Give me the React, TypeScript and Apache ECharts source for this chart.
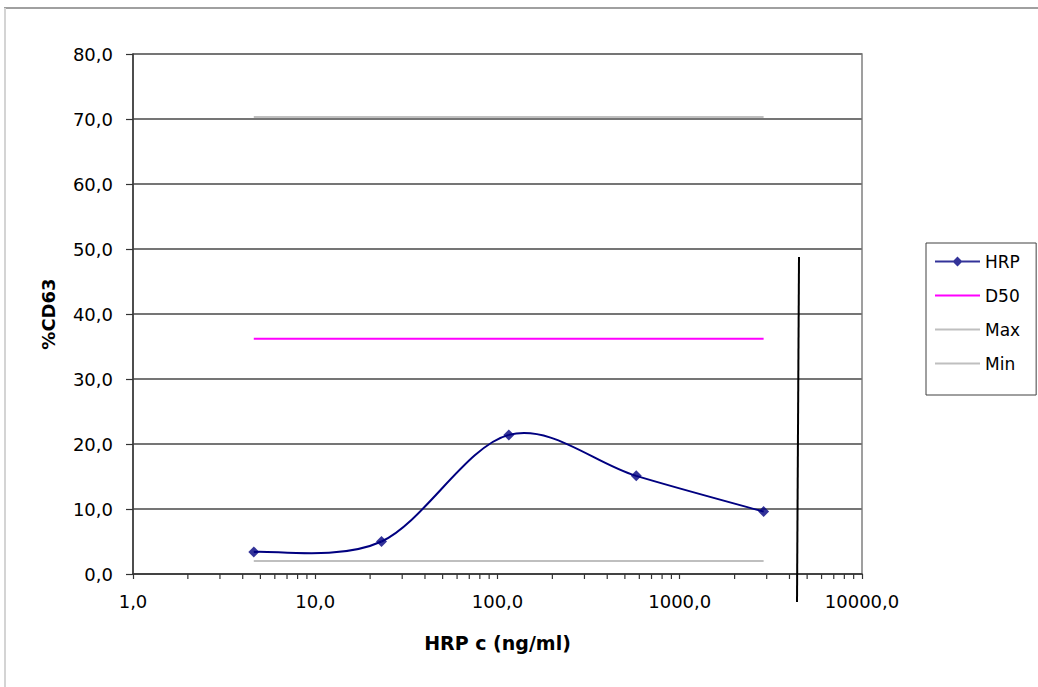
import React, { useEffect, useRef } from "react";
import * as echarts from "echarts";

const concentrations = [4.6, 23.1, 115.4, 577, 2885];
const hrpValues = [3.4, 5.0, 21.4, 15.1, 9.6];
const d50Value = 36.2;
const maxValue = 70.3;
const minValue = 2.0;
const minorTickValues = [
  2, 3, 4, 5, 6, 7, 8, 9,
  20, 30, 40, 50, 60, 70, 80, 90,
  200, 300, 400, 500, 600, 700, 800, 900,
  2000, 3000, 4000, 5000, 6000, 7000, 8000, 9000,
];
const seriesNames = ["HRP", "D50", "Max", "Min"];

const FONT = "DejaVu Sans";
const fmt = (v: number) => v.toFixed(1).replace(".", ",");
const LINE_ICON = "path://M0,6H45V8H0Z";
const LINE_DIAMOND_ICON = "path://M0,6H45V8H0Z M22.5,2L27.5,7L22.5,12L17.5,7Z";

export default function App() {
  const ref = useRef<HTMLDivElement>(null);
  useEffect(() => {
    if (!ref.current) return;
    const chart = echarts.init(ref.current, undefined, { renderer: "svg" });
    const first = concentrations[0];
    const last = concentrations[concentrations.length - 1];
    const flat = (v: number) => [[first, v], [last, v]];
    const n = concentrations.length;
    const icons = [LINE_DIAMOND_ICON, LINE_ICON, LINE_ICON, LINE_ICON];
    chart.setOption({
      animation: false,
      backgroundColor: "#ffffff",
      grid: {
        left: 133,
        right: 176,
        top: 54,
        bottom: 113,
        show: true,
        borderColor: "#808080",
        borderWidth: 1.5,
        backgroundColor: "transparent",
      },
      legend: {
        data: seriesNames.map((name, i) => ({ name, icon: icons[i] })),
        orient: "vertical",
        left: 926,
        top: 243,
        padding: [10, 16, 23, 9],
        itemWidth: 45,
        itemHeight: 14,
        itemGap: 17,
        borderColor: "#404040",
        borderWidth: 1,
        textStyle: { fontFamily: FONT, fontSize: 17, color: "#000" },
        selectedMode: false,
      },
      xAxis: {
        type: "log",
        logBase: 10,
        min: 1,
        max: 10000,
        name: "HRP c (ng/ml)",
        nameLocation: "middle",
        nameGap: 59,
        nameTextStyle: { fontFamily: FONT, fontSize: 19, fontWeight: "bold", color: "#000" },
        axisLine: { show: true, onZero: false, lineStyle: { color: "#333", width: 1.5 } },
        axisTick: { show: true, inside: false, length: 5, lineStyle: { color: "#333", width: 1.2 } },
        axisLabel: {
          formatter: (v: number) => fmt(v),
          fontFamily: FONT,
          fontSize: 18,
          color: "#000",
          margin: 18,
        },
        splitLine: { show: false },
        minorTick: { show: false },
      },
      yAxis: {
        type: "value",
        min: 0,
        max: 80,
        interval: 10,
        name: "%CD63",
        nameLocation: "middle",
        nameGap: 76,
        nameTextStyle: { fontFamily: FONT, fontSize: 18, fontWeight: "bold", color: "#000" },
        axisLine: { show: true, lineStyle: { color: "#333", width: 1.5 } },
        axisTick: { show: true, inside: false, length: 7, lineStyle: { color: "#333", width: 1.2 } },
        axisLabel: {
          formatter: (v: number) => fmt(v),
          fontFamily: FONT,
          fontSize: 18,
          color: "#000",
          margin: 20,
        },
        splitLine: { show: true, lineStyle: { color: "#757575", width: 1.8 } },
      },
      graphic: [
        { type: "line", shape: { x1: 4, y1: 8, x2: 1038, y2: 8 }, style: { stroke: "#a0a0a0", lineWidth: 2 } },
        { type: "line", shape: { x1: 5, y1: 8, x2: 5, y2: 687 }, style: { stroke: "#d4d4d4", lineWidth: 2 } },
        { type: "line", shape: { x1: 799, y1: 257, x2: 797, y2: 602 }, style: { stroke: "#000", lineWidth: 2 }, z: 100 },
      ],
      series: [
        {
          name: "Max",
          type: "line",
          data: flat(maxValue),
          symbol: "none",
          lineStyle: { color: "#bfbfbf", width: 2 },
          itemStyle: { color: "#bfbfbf" },
          z: 3,
        },
        {
          name: "Min",
          type: "line",
          data: flat(minValue),
          symbol: "none",
          lineStyle: { color: "#bfbfbf", width: 2 },
          itemStyle: { color: "#bfbfbf" },
          z: 3,
        },
        {
          name: "D50",
          type: "line",
          data: flat(d50Value),
          symbol: "none",
          lineStyle: { color: "#ff00ff", width: 2 },
          itemStyle: { color: "#ff00ff" },
          z: 3,
        },
        {
          name: "HRP curve",
          type: "custom",
          clip: false,
          silent: true,
          data: concentrations.slice(0, n - 1).map((c, i) => [c, hrpValues[i], i]),
          renderItem: (_params: any, api: any) => {
            const i = api.value(2);
            const pt = (j: number) => {
              const k = Math.max(0, Math.min(n - 1, j));
              return api.coord([concentrations[k], hrpValues[k]]);
            };
            const p0 = pt(i - 1);
            const p1 = pt(i);
            const p2 = pt(i + 1);
            const p3 = pt(i + 2);
            return {
              type: "bezierCurve",
              shape: {
                x1: p1[0],
                y1: p1[1],
                cpx1: p1[0] + (p2[0] - p0[0]) / 6,
                cpy1: p1[1] + (p2[1] - p0[1]) / 6,
                cpx2: p2[0] - (p3[0] - p1[0]) / 6,
                cpy2: p2[1] - (p3[1] - p1[1]) / 6,
                x2: p2[0],
                y2: p2[1],
              },
              style: { stroke: "#000080", lineWidth: 2, fill: "none" },
            };
          },
          z: 4,
        },
        {
          name: "HRP",
          type: "scatter",
          data: concentrations.map((c, i) => [c, hrpValues[i]]),
          symbol: "diamond",
          symbolSize: 11,
          itemStyle: { color: "#000080" },
          z: 5,
        },
        {
          name: "minorTicks",
          type: "custom",
          clip: false,
          silent: true,
          data: minorTickValues.map((v) => [v, 0]),
          renderItem: (_params: any, api: any) => {
            const p = api.coord([api.value(0), 0]);
            return {
              type: "line",
              shape: { x1: p[0], y1: p[1], x2: p[0], y2: p[1] + 5 },
              style: { stroke: "#333", lineWidth: 1.2 },
            };
          },
          z: 2,
        },
      ],
    });
    return () => chart.dispose();
  }, []);
  return (
    <div
      ref={ref}
      style={{ position: "fixed", left: 0, top: 0, width: 1038, height: 687, background: "#fff" }}
    />
  );
}
